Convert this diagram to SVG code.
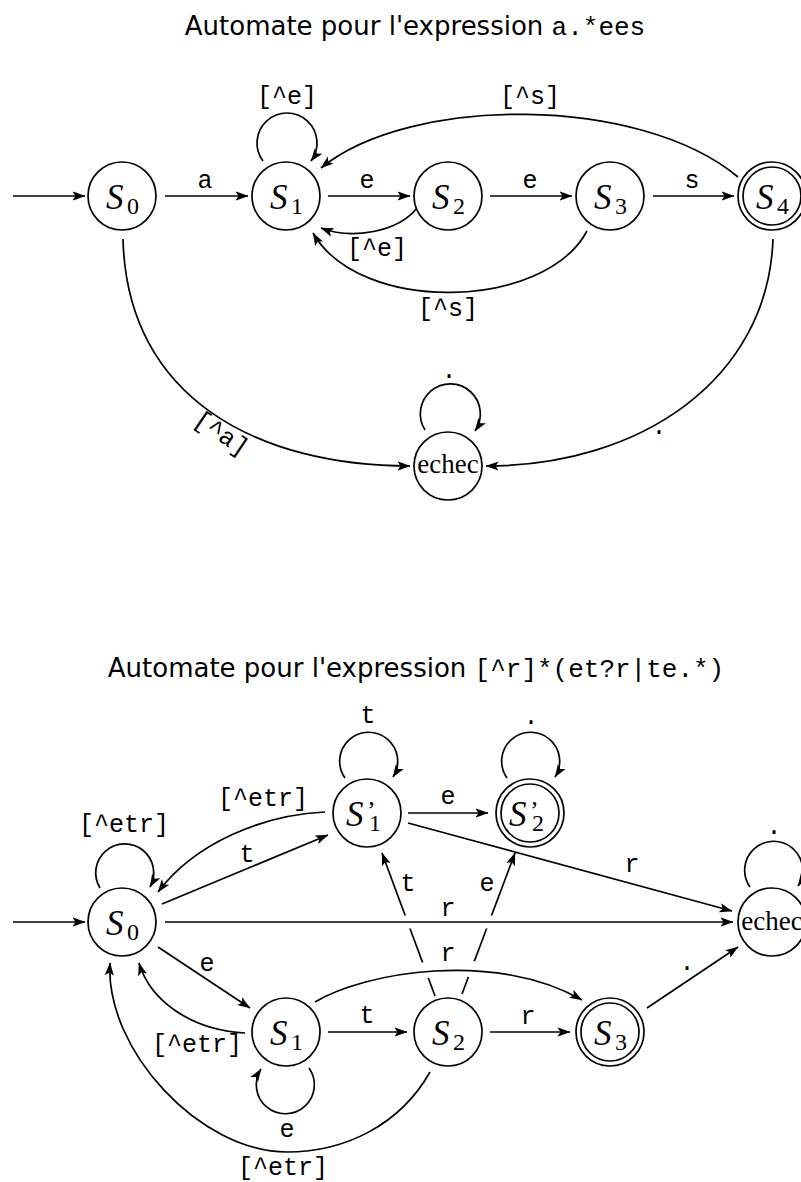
<svg xmlns="http://www.w3.org/2000/svg" width="801" height="1182" viewBox="0 0 801 1182">
<defs>
<marker id="ah" viewBox="0 0 13 10" refX="12.5" refY="5" markerWidth="13" markerHeight="10" markerUnits="userSpaceOnUse" orient="auto">
<path d="M0,0.4 L13,5 L0,9.6 L3,5 Z" fill="#000"/>
</marker>
<style>
.e{fill:none;stroke:#000;stroke-width:1.7}
.a{marker-end:url(#ah)}
.halo{fill:none;stroke:#fff}
.n{fill:#fff;stroke:#000;stroke-width:1.7}
.m{font-family:"Liberation Mono","DejaVu Sans Mono",monospace;font-size:25px;text-anchor:middle;fill:#000}
.S{font-family:"Liberation Serif",serif;font-style:italic;font-size:35px;fill:#000}
.sub{font-style:normal;font-size:24px}
.pr{font-style:normal;font-size:26px}
.ec{font-family:"Liberation Serif",serif;font-size:27px;text-anchor:middle;fill:#000}
.t{font-family:"DejaVu Sans",sans-serif;font-size:26px;text-anchor:middle;fill:#000}
.tm{font-family:"Liberation Mono",monospace}
</style>
</defs>
<rect width="801" height="1182" fill="#fff"/>

<text class="t" x="415" y="35">Automate pour l'expression <tspan class="tm">a.*ees</tspan></text>
<text class="t" x="416" y="677">Automate pour l'expression <tspan class="tm">[^r]*(et?r|te.*)</tspan></text>

<g id="edges1">
<path class="e a" d="M13,196 L85,196"/>
<path class="e a" d="M165,196 L248,196"/>
<path class="e a" d="M263,161 A30,30 0 1 1 311,161"/>
<path class="e a" d="M328,196 L410,196"/>
<path class="e a" d="M417,208 C398,232 352,240 321,228"/>
<path class="e a" d="M490,196 L572,196"/>
<path class="e a" d="M653,196 L734,196"/>
<path class="e a" d="M738,177 C640,95 410,95 321,168"/>
<path class="e a" d="M587,231 C545,310 360,315 313,233"/>
<path class="e a" d="M123,239 C127,400 260,466 410,466"/>
<path class="e a" d="M773,239 C768,380 640,466 486,466"/>
<path class="e a" d="M425,430 A30,30 0 1 1 475,431"/>
<text class="m" x="205" y="188">a</text>
<text class="m" x="287" y="104">[^e]</text>
<text class="m" x="367" y="188">e</text>
<text class="m" x="377" y="256">[^e]</text>
<text class="m" x="530" y="188">e</text>
<text class="m" x="692" y="188">s</text>
<text class="m" x="530" y="104">[^s]</text>
<text class="m" x="448" y="316">[^s]</text>
<text class="m" transform="translate(221,434) rotate(34)" y="7">[^a]</text>
<text class="m" x="659" y="434">.</text>
<text class="m" x="449" y="378">.</text>
</g>

<g id="edges2">
<path class="e a" d="M13,922 L85,922"/>
<path class="e a" d="M100,888 A29,29 0 1 1 150,887"/>
<path class="e a" d="M325,812 C262,815 195,843 158,892"/>
<path class="e a" d="M162,904 L328,835"/>
<path class="e a" d="M345,778 A29,29 0 1 1 393,777"/>
<path class="e a" d="M507,778 A29,29 0 1 1 555,777"/>
<path class="e a" d="M408,813 L488,813"/>
<path class="e a" d="M408,823 L732,911"/>
<path class="e a" d="M435,996 L382,853"/>
<path class="e a" d="M158,947 L250,1008"/>
<path class="e a" d="M245,1033 C190,1030 150,1000 139,963"/>
<path class="e a" d="M430,1072 C400,1125 345,1152 287,1152 C200,1152 105,1050 110,963"/>
<path class="e a" d="M309,1068 A29,29 0 1 1 261,1069"/>
<path class="e a" d="M328,1032 L407,1032"/>
<path class="e a" d="M490,1032 L570,1032"/>
<path class="e a" d="M647,1008 L738,947"/>
<path class="e a" d="M750,887 A29,29 0 1 1 798,886"/>
<path class="halo" stroke-width="10" d="M464,989 L512,861"/>
<path class="e a" d="M462,994 L515,853"/>
<path class="halo" stroke-width="13" d="M170,922 L725,922"/>
<path class="e a" d="M165,922 L733,922"/>
<path class="halo" stroke-width="16" d="M325,996 C370,970 495,952 570,993"/>
<path class="e a" d="M315,1002 C365,972 495,950 582,1000"/>
<text class="m" x="124" y="832">[^etr]</text>
<text class="m" x="263" y="806">[^etr]</text>
<text class="m" x="247" y="862">t</text>
<text class="m" x="368" y="723">t</text>
<text class="m" x="531" y="724">.</text>
<text class="m" x="448" y="804">e</text>
<text class="m" x="632" y="872">r</text>
<text class="m" x="408" y="891">t</text>
<text class="m" x="487" y="891">e</text>
<text class="m" x="448" y="916">r</text>
<text class="m" x="448" y="961">r</text>
<text class="m" x="207" y="971">e</text>
<text class="m" x="197" y="1052">[^etr]</text>
<text class="m" x="283" y="1175">[^etr]</text>
<text class="m" x="287" y="1137">e</text>
<text class="m" x="367" y="1023">t</text>
<text class="m" x="528" y="1024">r</text>
<text class="m" x="687" y="970">.</text>
<text class="m" x="774" y="834">.</text>
</g>

<g id="a_S0"><circle class="n" cx="122" cy="196" r="34"/><text class="S" x="106" y="209">S<tspan class="sub" x="127" y="214">0</tspan></text></g>
<g id="a_S1"><circle class="n" cx="286" cy="196" r="34"/><text class="S" x="270" y="209">S<tspan class="sub" x="291" y="214">1</tspan></text></g>
<g id="a_S2"><circle class="n" cx="448" cy="196" r="34"/><text class="S" x="432" y="209">S<tspan class="sub" x="453" y="214">2</tspan></text></g>
<g id="a_S3"><circle class="n" cx="610" cy="196" r="34"/><text class="S" x="594" y="209">S<tspan class="sub" x="615" y="214">3</tspan></text></g>
<g id="a_S4"><circle class="n" cx="772" cy="196" r="34"/><circle class="n" cx="772" cy="196" r="29"/><text class="S" x="756" y="209">S<tspan class="sub" x="777" y="214">4</tspan></text></g>
<g id="a_echec"><circle class="n" cx="448" cy="466" r="34"/><text class="ec" x="448" y="473">echec</text></g>

<g id="b_S0"><circle class="n" cx="122" cy="922" r="34"/><text class="S" x="106" y="935">S<tspan class="sub" x="127" y="940">0</tspan></text></g>
<g id="b_S1p"><circle class="n" cx="367" cy="813" r="34"/><text class="S" x="346" y="826">S<tspan class="pr" x="367" y="819">’</tspan><tspan class="sub" x="369" y="831">1</tspan></text></g>
<g id="b_S2p"><circle class="n" cx="530" cy="813" r="34"/><circle class="n" cx="530" cy="813" r="29"/><text class="S" x="509" y="826">S<tspan class="pr" x="530" y="819">’</tspan><tspan class="sub" x="532" y="831">2</tspan></text></g>
<g id="b_echec"><circle class="n" cx="772" cy="922" r="34"/><text class="ec" x="772" y="930">echec</text></g>
<g id="b_S1"><circle class="n" cx="286" cy="1032" r="34"/><text class="S" x="270" y="1045">S<tspan class="sub" x="291" y="1050">1</tspan></text></g>
<g id="b_S2"><circle class="n" cx="448" cy="1032" r="34"/><text class="S" x="432" y="1045">S<tspan class="sub" x="453" y="1050">2</tspan></text></g>
<g id="b_S3"><circle class="n" cx="610" cy="1032" r="34"/><circle class="n" cx="610" cy="1032" r="29"/><text class="S" x="594" y="1045">S<tspan class="sub" x="615" y="1050">3</tspan></text></g>
</svg>
